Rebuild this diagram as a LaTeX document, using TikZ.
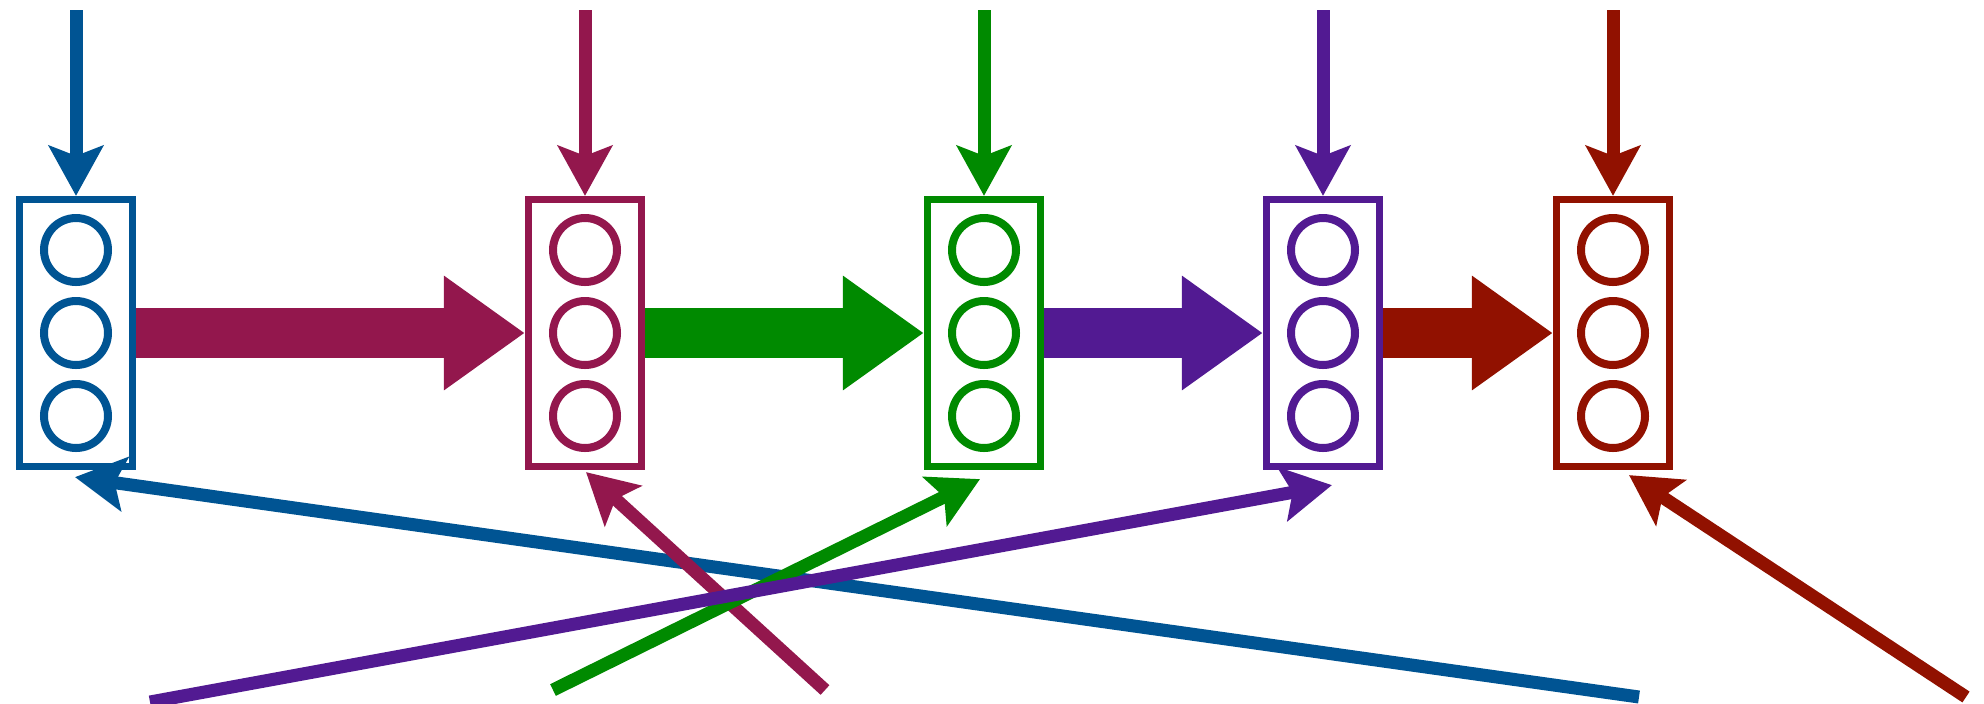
\documentclass[tikz,border=0pt]{standalone}
\usepackage{xcolor}
\usepackage{tikz}
\usetikzlibrary{arrows.meta}
\definecolor{stageA}{RGB}{0,84,147}
\definecolor{stageB}{RGB}{147,23,77}
\definecolor{stageC}{RGB}{0,138,0}
\definecolor{stageD}{RGB}{82,26,146}
\definecolor{stageE}{RGB}{145,17,0}
\tikzset{
  box/.style={
    draw,
    rectangle,
    line width=0.72mm,
    inner sep=0pt,
    minimum width=11.3mm,
    minimum height=26.7mm
  },
  ring/.style={
    draw,
    circle,
    line width=0.8mm,
    inner sep=0pt,
    minimum size=6.4mm
  },
  feed/.style={
    line width=1.3mm,
    -{Stealth[length=5mm,width=5.4mm,inset=1mm]}
  },
  pass/.style={
    line width=5mm,
    -{Triangle[length=8.1mm,width=10.9mm]}
  }
}
\tikzset{
  column/.pic={
    \node[box, draw=#1] (-box) at (0,0) {};
    \node[ring, draw=#1] (-top) at (0,-83) {};
    \node[ring, draw=#1] (-mid) at (0,0) {};
    \node[ring, draw=#1] (-bot) at (0,83) {};
  }
}
\begin{document}
\begin{tikzpicture}[x=0.1mm, y=-0.1mm]
  \useasboundingbox (0,0) rectangle (1984,703);
  % the five stages
  \pic (c1) at (76,333) {column=stageA};
  \pic (c2) at (585,333) {column=stageB};
  \pic (c3) at (984,333) {column=stageC};
  \pic (c4) at (1323,333) {column=stageD};
  \pic (c5) at (1613,333) {column=stageE};
  % inputs from above
  \coordinate (in1) at (76,10);
  \coordinate (in2) at (585,10);
  \coordinate (in3) at (984,10);
  \coordinate (in4) at (1323,10);
  \coordinate (in5) at (1613,10);
  \draw[feed, stageA] (in1) -- (c1-box.north);
  \draw[feed, stageB] (in2) -- (c2-box.north);
  \draw[feed, stageC] (in3) -- (c3-box.north);
  \draw[feed, stageD] (in4) -- (c4-box.north);
  \draw[feed, stageE] (in5) -- (c5-box.north);
  % hand-over between stages
  \draw[pass, stageB] (c1-box.east) -- (c2-box.west);
  \draw[pass, stageC] (c2-box.east) -- (c3-box.west);
  \draw[pass, stageD] (c3-box.east) -- (c4-box.west);
  \draw[pass, stageE] (c4-box.east) -- (c5-box.west);
  % returns from below
  \coordinate (out1) at (1639,697);
  \coordinate (out2) at (825,690);
  \coordinate (out3) at (553,690);
  \coordinate (out4) at (150,702);
  \coordinate (out5) at (1966,697);
  \draw[feed, stageA] (out1) -- ([shift={(-1,7)}]c1-box.south);
  \draw[feed, stageB] (out2) -- ([shift={(1,2)}]c2-box.south);
  \draw[feed, stageC] (out3) -- ([shift={(-4,9)}]c3-box.south);
  \draw[feed, stageD] (out4) -- ([shift={(9,15)}]c4-box.south);
  \draw[feed, stageE] (out5) -- ([shift={(16,5)}]c5-box.south);
\end{tikzpicture}
\end{document}
